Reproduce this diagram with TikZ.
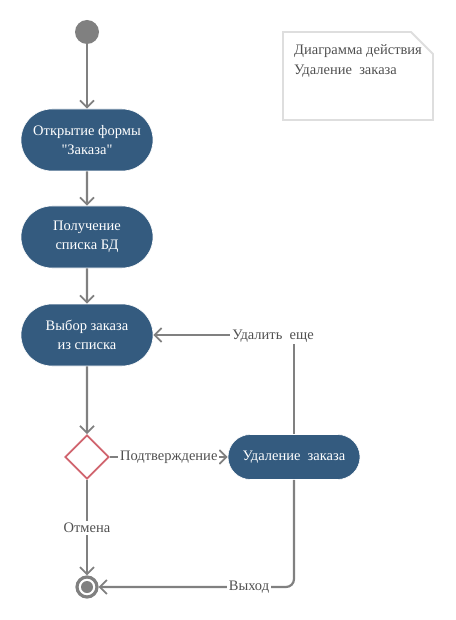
\documentclass[tikz,border=0pt]{standalone}
\usepackage{fontspec}
\setmainfont{Liberation Serif}[Ligatures=TeXOff]
\usetikzlibrary{arrows.meta,shapes.geometric,shapes.misc}
\definecolor{actfill}{HTML}{345B7F}
\definecolor{linegray}{HTML}{808080}
\definecolor{labgray}{HTML}{505050}
\definecolor{diared}{HTML}{D0646E}
\definecolor{notegray}{HTML}{DEDEDE}
\tikzset{
  act/.style={rounded rectangle, fill=actfill, draw=white, line width=0.6pt, text=white,
    minimum width=132pt, align=center, font=\fontsize{14.5}{19.5}\selectfont, inner sep=0pt},
  flow/.style={draw=linegray, line width=2.2pt, -{Straight Barb[length=7pt,width=14pt,line width=1.8pt]}},
  lab/.style={fill=white, text=labgray, font=\fontsize{14.5}{16}\selectfont, inner sep=2pt},
}
\begin{document}
\begin{tikzpicture}[x=1pt,y=-1pt]
\useasboundingbox (0,0) rectangle (455,620);
% start
\node[circle, fill=linegray, minimum size=24pt, inner sep=0pt] (start) at (87,32) {};
% activities
\node[act, minimum height=62pt] (a1) at (87,140) {Открытие формы\\"Заказа"};
\node[act, minimum height=62pt] (a2) at (87,237) {Получение\\списка БД};
\node[act, minimum height=62pt] (a3) at (87,335) {Выбор заказа\\из списка};
\node[act, minimum height=45pt] (a4) at (294,457) {Удаление\ \ заказа};
% decision
\node[diamond, draw=diared, line width=1.8pt, minimum width=44pt, minimum height=44pt, inner sep=0pt] (d) at (87,457) {};
% end
\node[circle, draw=linegray, line width=3.2pt, minimum size=20pt, inner sep=0pt] (end) at (87,587) {};
\node[circle, fill=linegray, minimum size=12pt, inner sep=0pt] (endin) at (87,587) {};
% note
\draw[draw=notegray, line width=1.8pt] (283,32) -- (411,32) -- (433,54) -- (433,120) -- (283,120) -- cycle;
\node[anchor=west, align=left, text=labgray, font=\fontsize{14.5}{20}\selectfont, inner sep=0pt] (note) at (294,61) {Диаграмма действия\\Удаление\ \ заказа};
% flows
\draw[flow] (start) -- (a1);
\draw[flow] (a1) -- (a2);
\draw[flow] (a2) -- (a3);
\draw[flow] (a3) -- (d);
\draw[flow] (d) -- node[lab, pos=0.5] (lconf) {Подтверждение} (a4);
\draw[flow] (d) -- node[lab, pos=0.5] (lcanc) {Отмена} (end);
\draw[flow] (a4.north) -- (294,335) -- (a3.east);
\node[lab] (lmore) at (273,336) {Удалить\ \ еще};
\draw[flow, rounded corners=8pt] (a4.south) -- (294,587) -- (end.east);
\node[lab] (lexit) at (249,587) {Выход};
\end{tikzpicture}
\end{document}
